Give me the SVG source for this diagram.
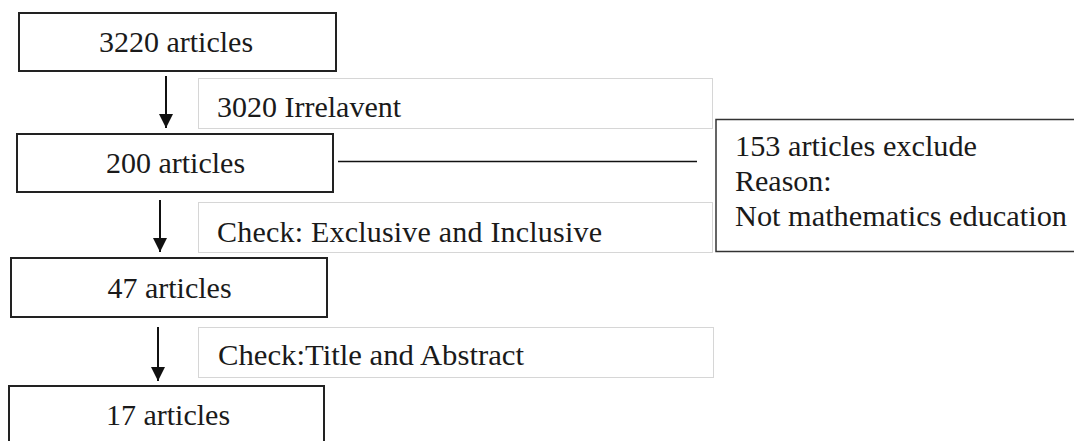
<svg xmlns="http://www.w3.org/2000/svg" width="1074" height="441" viewBox="0 0 1074 441">
<style>
text{font-family:'Liberation Serif','Times New Roman',Times,serif;font-size:30px;fill:#1a1a1a}
.box{fill:#fff;stroke:#222;stroke-width:2}
.lbl{fill:#fff;stroke:#d6d6d6;stroke-width:1}
.ex{fill:#fff;stroke:#333;stroke-width:1.5}
.c{text-anchor:middle}
.conn{stroke:#111;stroke-width:2;fill:none}
</style>
<defs>
<marker id="ah" viewBox="0 0 10 10" refX="10" refY="5" markerWidth="14" markerHeight="15" markerUnits="userSpaceOnUse" orient="auto">
<path d="M0,0 L10,5 L0,10 z" fill="#111"/>
</marker>
</defs>
<rect width="1074" height="441" fill="#fff"/>
<g id="label-irrelevant"><rect class="lbl" x="198.5" y="78.5" width="514" height="50"/><text x="217" y="117">3020 Irrelavent</text></g>
<g id="label-check1"><rect class="lbl" x="198.5" y="202.5" width="514" height="50"/><text x="217" y="242" textLength="385" lengthAdjust="spacing">Check: Exclusive and Inclusive</text></g>
<g id="label-check2"><rect class="lbl" x="198.5" y="327.5" width="515" height="50"/><text x="218" y="365" textLength="306" lengthAdjust="spacingAndGlyphs">Check:Title and Abstract</text></g>
<g id="connectors">
<line class="conn" x1="166" y1="76" x2="166" y2="128" marker-end="url(#ah)"/>
<line class="conn" x1="160" y1="200" x2="160" y2="252" marker-end="url(#ah)"/>
<line class="conn" x1="158" y1="327" x2="158" y2="381" marker-end="url(#ah)"/>
<line x1="338" y1="161.5" x2="697" y2="161.5" stroke="#111" stroke-width="1.3"/>
</g>
<g id="n3220"><rect class="box" x="19" y="13" width="317" height="58"/><text class="c" x="176" y="52">3220 articles</text></g>
<g id="n200"><rect class="box" x="17" y="134" width="316" height="58"/><text class="c" x="175.5" y="173">200 articles</text></g>
<g id="n47"><rect class="box" x="11" y="258" width="316" height="59"/><text class="c" x="169.5" y="298">47 articles</text></g>
<g id="n17"><path class="box" d="M9,445 V386 H324 V445"/><text class="c" x="168" y="425">17 articles</text></g>
<g id="exclude"><rect class="ex" x="716" y="119.5" width="370" height="132"/>
<text x="735" y="156" textLength="242" lengthAdjust="spacingAndGlyphs">153 articles exclude</text>
<text x="735" y="191">Reason:</text>
<text x="735" y="226" textLength="332" lengthAdjust="spacingAndGlyphs">Not mathematics education</text></g>
</svg>
